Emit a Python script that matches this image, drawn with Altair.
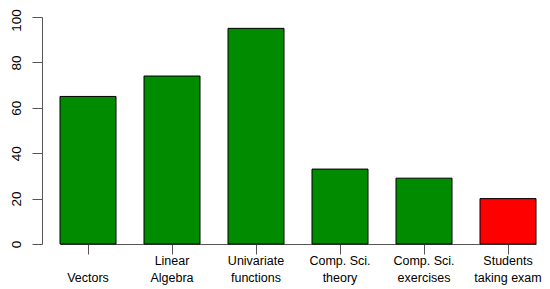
import altair as alt
import pandas as pd

categories = ["Vectors", "Linear\nAlgebra", "Univariate\nfunctions",
              "Comp. Sci.\ntheory", "Comp. Sci.\nexercises", "Students\ntaking exam"]
values = [65, 74, 95, 33, 29, 20]
colors = ["#008B00", "#008B00", "#008B00", "#008B00", "#008B00", "#FF0000"]
y_ticks = [0, 20, 40, 60, 80, 100]

df = pd.DataFrame({"category": categories, "value": values, "color": colors})

axis_color = "#555555"
font = "Liberation Sans"

label_expr = ("length(split(datum.label, '\\n')) == 1 ? ['', datum.label] "
              ": split(datum.label, '\\n')")

chart = alt.Chart(df).mark_bar(stroke="black", strokeWidth=1).encode(
    x=alt.X("category:N", sort=categories,
            scale=alt.Scale(paddingInner=1/3, paddingOuter=0),
            axis=alt.Axis(title=None, labelAngle=0, labelExpr=label_expr,
                          labelBaseline="top", labelPadding=0, labelLineHeight=17.4,
                          labelFont=font, labelFontSize=12.5, labelColor="black",
                          tickSize=10, tickColor=axis_color, domainColor=axis_color,
                          labelLimit=200)),
    y=alt.Y("value:Q", scale=alt.Scale(domain=[0, 100], nice=False),
            axis=alt.Axis(title=None, values=y_ticks, grid=False, offset=18,
                          labelAngle=-90, labelAlign="center", labelBaseline="bottom",
                          labelFlush=False,
                          labelOffset={"condition": {"test": "datum.value == 100", "value": 3},
                                       "value": 0},
                          labelPadding=9, labelFont=font, labelFontSize=13.5, labelColor="black",
                          tickSize=10, tickColor=axis_color, domainColor=axis_color)),
    color=alt.Color("color:N", scale=None),
).properties(
    width=476, height=227,
    autosize=alt.AutoSizeParams(type="none"),
    padding={"left": 52, "top": 9, "right": 6, "bottom": 45},
).configure_view(stroke=None)

chart.save("out.html", embed_options={"renderer": "svg", "actions": False})
